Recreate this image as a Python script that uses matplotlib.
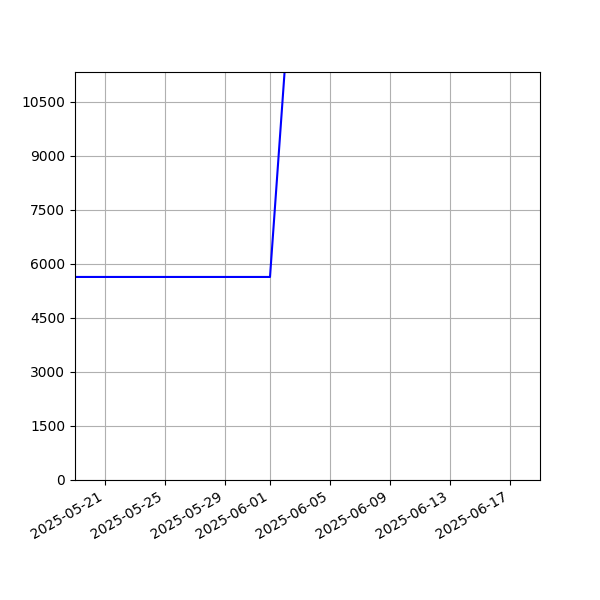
import matplotlib
matplotlib.use("Agg")
import matplotlib.pyplot as plt
import numpy as np
import pandas as pd

# daily series (flat until June 1st, then jumps)
dates = pd.date_range("2025-05-19", "2025-06-02", freq="D")
values = [5640] * 14 + [11500]

x_start = pd.Timestamp("2025-05-19")
x_end = pd.Timestamp("2025-06-19")
y_ticks = np.arange(0, 10501, 1500)

fig, ax = plt.subplots(figsize=(6, 6), dpi=100)
ax.plot(dates, values, color="blue")
ax.set_xlim(x_start, x_end)
ax.set_ylim(0, 11333)
ax.set_yticks(y_ticks)
ax.grid(True)
fig.autofmt_xdate()

plt.savefig("out.png")
